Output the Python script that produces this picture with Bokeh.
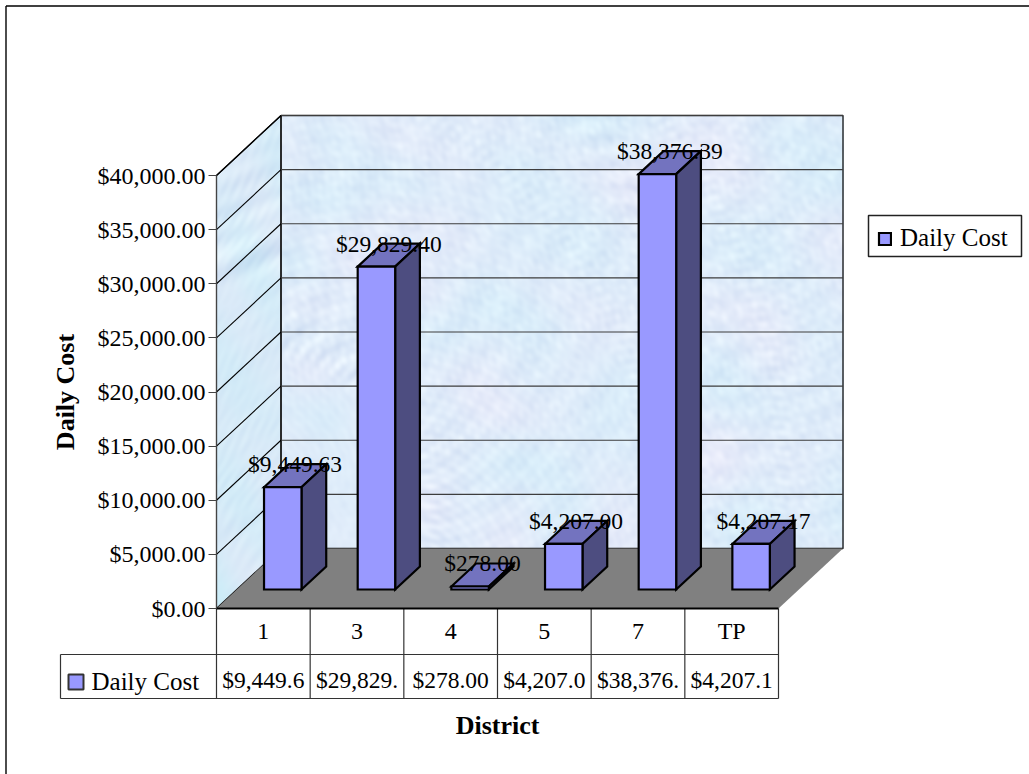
import numpy as np
from bokeh.core.properties import value
from bokeh.embed import file_html
from bokeh.models import FixedTicker, Legend, LegendItem, LinearAxis, NumeralTickFormatter
from bokeh.plotting import figure
from bokeh.resources import INLINE

# ---- chart data ----
categories = ["1", "3", "4", "5", "7", "TP"]
daily_cost = [9449.63, 29829.40, 278.00, 4207.00, 38376.39, 4207.17]
cost_labels = ["$9,449.63", "$29,829.40", "$278.00", "$4,207.00", "$38,376.39", "$4,207.17"]
table_cells = ["$9,449.6", "$29,829.", "$278.00", "$4,207.0", "$38,376.", "$4,207.1"]
y_ticks = [0, 5000, 10000, 15000, 20000, 25000, 30000, 35000, 40000]
series_name = "Daily Cost"
x_title = "District"
y_title = "Daily Cost"

# ---- layout ----
W, H = 1029, 774
X0, X1 = 216.0, 778.0      # front plane left / right px
Y0, Y40 = 608.0, 175.0     # front plane $0 / $40,000 px
DEPTH_X, DEPTH_Y = 64.5, 60.0
CW = (X1 - X0) / len(categories)
PPD = (Y0 - Y40) / 40000.0   # px per dollar


def ux(px):  # px offset -> category units
    return px / CW


def dy(py):  # px offset -> dollars
    return py / PPD


def X(px):
    return (px - X0) / CW


def Y(py):
    return (Y0 - py) / PPD


FONT = value("Liberation Serif")
SZ = value("23.5px")

p = figure(width=W, height=H, output_backend="svg", toolbar_location=None,
           x_range=(X(0), X(W)), y_range=(Y(H), Y(0)),
           min_border=0, min_border_left=0, min_border_right=0, min_border_top=0, min_border_bottom=0,
           x_axis_type=None, y_axis_type=None, outline_line_color=None,
           background_fill_color="white", border_fill_color="white")
p.grid.visible = False
p.styles = {"position": "absolute", "left": "0px", "top": "0px"}


# ---- mottled wall texture (deterministic sum of waves, decoration only) ----
def texture(h, w, base, streak=False):
    yy, xx = np.mgrid[0:h, 0:w].astype(float)
    a = np.zeros((h, w))
    b = np.zeros((h, w))
    for k in range(1, 150):
        if streak:
            ang = -0.75 + 0.45 * np.sin(k * 2.39996)
        else:
            ang = k * 2.39996
        fr = 0.08 + 0.75 * ((k * 0.6180339) % 1.0)
        ph = k * 1.2345
        a += np.sin((xx * np.cos(ang) + yy * np.sin(ang)) * fr + ph) / (1 + fr * 2.5)
        if k % 5 == 0:
            b += np.sin((xx * np.cos(ang + 1) + yy * np.sin(ang + 1)) * fr * 0.12 + ph)
    a /= a.std()
    b /= b.std()
    r = base[0] + a * 3.5 + b * 3.0
    g = base[1] + a * 3.0 - b * 0.5
    c = base[2] + a * 1.5
    img = np.zeros((h, w), dtype=np.uint32)
    view = img.view(dtype=np.uint8).reshape((h, w, 4))
    view[..., 0] = np.clip(r, 0, 255)
    view[..., 1] = np.clip(g, 0, 255)
    view[..., 2] = np.clip(c, 0, 255)
    view[..., 3] = 255
    return img, view


BW, BH = int(X1 - X0 + 1), int(Y0 - Y40)
back, _ = texture(BH, BW, (223, 236, 250))
p.image_rgba(image=[back], x=[X(X0 + DEPTH_X)], y=[Y(Y0 - DEPTH_Y)],
             dw=[ux(BW)], dh=[dy(BH)])

SW, SH = int(DEPTH_X), int(Y0 - Y40 + DEPTH_Y)
side, view = texture(SH, SW, (218, 234, 248), streak=True)
rows = np.arange(SH)[:, None] + 0.5    # rows count upward from the wall's lowest point
cols = np.arange(SW)[None, :] + 0.5
low = cols * DEPTH_Y / DEPTH_X
view[..., 3] = np.where((rows >= low) & (rows <= low + (Y0 - Y40)), 255, 0)
p.image_rgba(image=[side], x=[X(X0)], y=[0], dw=[ux(SW)], dh=[dy(SH)])

# wall outlines
p.patch(x=[X(X0 + DEPTH_X), X(X1 + DEPTH_X), X(X1 + DEPTH_X), X(X0 + DEPTH_X)],
        y=[dy(DEPTH_Y), dy(DEPTH_Y), 40000 + dy(DEPTH_Y), 40000 + dy(DEPTH_Y)],
        fill_alpha=0, line_color="#111111", line_width=1.3)
p.patch(x=[0, ux(DEPTH_X), ux(DEPTH_X), 0], y=[0, dy(DEPTH_Y), 40000 + dy(DEPTH_Y), 40000],
        fill_alpha=0, line_color="#111111", line_width=1.3)

# gridlines on the back and side walls
inner = y_ticks[1:-1] + [y_ticks[-1]]
p.segment(x0=[ux(DEPTH_X)] * len(inner), y0=[t + dy(DEPTH_Y) for t in inner],
          x1=[len(categories) + ux(DEPTH_X)] * len(inner), y1=[t + dy(DEPTH_Y) for t in inner],
          line_color="#3d3d3d", line_width=1.2)
p.segment(x0=[0] * len(inner), y0=inner,
          x1=[ux(DEPTH_X)] * len(inner), y1=[t + dy(DEPTH_Y) for t in inner],
          line_color="#000000", line_width=1.1)

# floor
n = len(categories)
p.patch(x=[0, ux(DEPTH_X), n + ux(DEPTH_X), n], y=[0, dy(DEPTH_Y), dy(DEPTH_Y), 0],
        fill_color="#808080", line_color=None)

# ---- 3-D columns ----
BAR_W = 0.4
F_T = 19.0 / DEPTH_Y      # depth fraction of the bar's front face
B_T = 42.0 / DEPTH_Y      # depth fraction of the bar's back face
fx = ux(F_T * DEPTH_X - 1.0)
fy = dy(F_T * DEPTH_Y)
bx = ux(B_T * DEPTH_X - 1.0)
by = dy(B_T * DEPTH_Y)
cx = np.arange(n) + 0.5
left = cx - BAR_W / 2
right = cx + BAR_W / 2
vals = np.array(daily_cost)

line = dict(line_color="black", line_width=2.2, line_join="miter")
top_xs = [[l + fx, l + bx, r + bx, r + fx] for l, r in zip(left, right)]
top_ys = [[v + fy, v + by, v + by, v + fy] for v in vals]
p.patches(xs=top_xs, ys=top_ys, fill_color="#7373BF", **line)
side_xs = [[r + fx, r + bx, r + bx, r + fx] for r in right]
side_ys = [[fy, by, v + by, v + fy] for v in vals]
p.patches(xs=side_xs, ys=side_ys, fill_color="#4D4D80", **line)
front = p.quad(left=left + fx, right=right + fx, bottom=[fy] * n, top=vals + fy,
               fill_color="#9999FF", **line)

# value labels, centred on the column's top face
p.text(x=cx + (fx + bx) / 2, y=vals + by, text=cost_labels, text_font=FONT, text_font_size=SZ,
       text_align="center", text_baseline="middle", text_color="black")

# ---- data table under the plot ----
R1, R2 = Y(654.0), Y(698.0)
p.segment(x0=list(range(n + 1)), y0=[0] * (n + 1), x1=list(range(n + 1)), y1=[R2] * (n + 1),
          line_color="#333333", line_width=1.2)
p.segment(x0=[X(60), X(60), X(60)], y0=[R1, R2, R1], x1=[n, n, X(60)], y1=[R1, R2, R2],
          line_color="#333333", line_width=1.2)
p.text(x=cx, y=[Y(679.0)] * n, text=table_cells, text_font=FONT, text_font_size=SZ,
       text_align="center", text_baseline="middle", text_color="black")
p.quad(left=[X(68)], right=[X(83)], bottom=[Y(689)], top=[Y(674)], fill_color="#9999FF",
       line_color="#333333", line_width=2)
p.text(x=[X(91)], y=[Y(681)], text=[series_name], text_font=FONT, text_font_size=value("25px"),
       text_align="left", text_baseline="middle", text_color="black")

# page frame lines
p.segment(x0=[X(5.5), X(5.5)], y0=[Y(5.5), Y(5.5)], x1=[X(W), X(5.5)], y1=[Y(5.5), Y(H)],
          line_color="black", line_width=1.4)

# legend box, drawn under the transparent native legend
p.quad(left=[X(868)], right=[X(1021)], bottom=[Y(256)], top=[Y(215)], fill_color="white",
       line_color="#222222", line_width=1.5)

# ---- axes ----
ya = LinearAxis(ticker=FixedTicker(ticks=y_ticks), formatter=NumeralTickFormatter(format="$0,0.00"),
                fixed_location=0, bounds=(0, 40000), axis_label=y_title,
                axis_label_text_font="Liberation Serif", axis_label_text_font_size="26px",
                axis_label_text_font_style="bold", axis_label_text_color="black",
                axis_label_standoff=15,
                major_label_text_font="Liberation Serif", major_label_text_font_size="24px",
                major_label_text_color="black", major_label_standoff=3,
                major_tick_out=8, major_tick_in=0, minor_tick_out=0, minor_tick_in=0,
                major_tick_line_color="#444444", axis_line_color="#444444")
p.add_layout(ya, "left")
xa = LinearAxis(ticker=FixedTicker(ticks=list(cx)),
                major_label_overrides={float(c): lab for c, lab in zip(cx, categories)},
                fixed_location=0, bounds=(0, n), axis_label=x_title,
                axis_label_text_font="Liberation Serif", axis_label_text_font_size="26px",
                axis_label_text_font_style="bold", axis_label_text_color="black",
                axis_label_standoff=64,
                major_label_text_font="Liberation Serif", major_label_text_font_size="24px",
                major_label_text_color="black", major_label_standoff=9,
                major_tick_out=0, major_tick_in=0, minor_tick_out=0, minor_tick_in=0,
                axis_line_color="black", axis_line_width=2)
p.add_layout(xa, "below")

# ---- legend ----
legend = Legend(items=[LegendItem(label=series_name, renderers=[front])],
                location=(877, H - 252), orientation="vertical", margin=0, padding=0,
                glyph_width=15, glyph_height=15, label_standoff=8, label_height=23,
                label_text_font="Liberation Serif", label_text_font_size="25px",
                label_text_color="black", border_line_color=None,
                background_fill_alpha=0)
p.add_layout(legend, "center")

open("out.html", "w").write(file_html(p, INLINE))
